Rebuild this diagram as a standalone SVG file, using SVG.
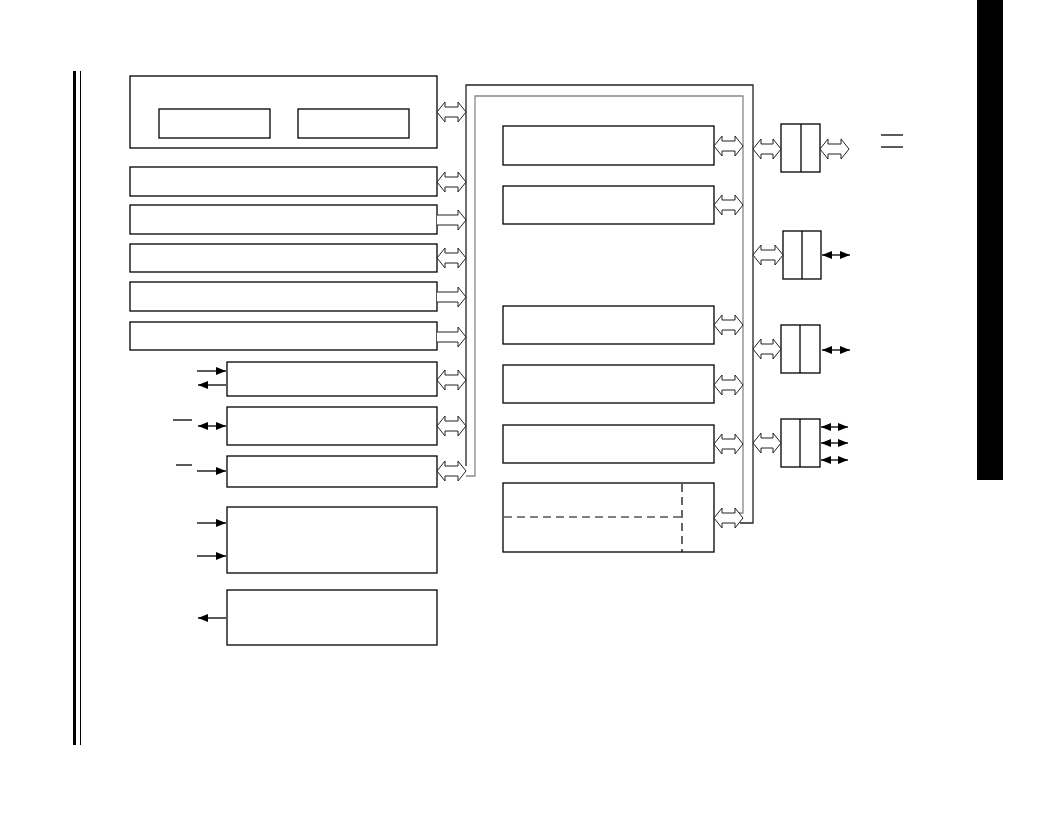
<svg xmlns="http://www.w3.org/2000/svg" width="1056" height="817" viewBox="0 0 1056 817">
<style>
.box{fill:#fff;stroke:#000;stroke-width:1.3}
.ha{fill:#fff;stroke:#222;stroke-width:1}
.ln{fill:none;stroke:#000;stroke-width:1.3}
.busO{fill:none;stroke:#222;stroke-width:1.3}
.busI{fill:none;stroke:#888;stroke-width:1.3}
.dash{fill:none;stroke:#000;stroke-width:1.2;stroke-dasharray:8,5}
</style>
<defs>
<marker id="ah" viewBox="0 0 10 8" refX="10" refY="4" markerWidth="10" markerHeight="8" markerUnits="userSpaceOnUse" orient="auto-start-reverse">
<path d="M0,0 L10,4 L0,8 Z" fill="#000"/>
</marker>
</defs>
<rect width="1056" height="817" fill="#fff"/>
<g id="page-bars">
<rect x="73" y="71" width="3" height="674" fill="#000"/>
<rect x="80" y="71" width="1" height="674" fill="#000"/>
<rect x="977" y="0" width="26" height="480" fill="#000"/>
</g>
<g id="n-top"><rect class="box" x="130" y="76" width="307" height="72"/></g>
<g id="n-top-a"><rect class="box" x="159" y="109" width="111" height="29"/></g>
<g id="n-top-b"><rect class="box" x="298" y="109" width="111" height="29"/></g>
<g id="n-2"><rect class="box" x="130" y="167" width="307" height="29"/></g>
<g id="n-3"><rect class="box" x="130" y="205" width="307" height="29"/></g>
<g id="n-4"><rect class="box" x="130" y="244" width="307" height="28"/></g>
<g id="n-5"><rect class="box" x="130" y="282" width="307" height="29"/></g>
<g id="n-6"><rect class="box" x="130" y="322" width="307" height="28"/></g>
<g id="n-g"><rect class="box" x="227" y="362" width="210" height="34"/></g>
<g id="n-h"><rect class="box" x="227" y="407" width="210" height="38"/></g>
<g id="n-i"><rect class="box" x="227" y="456" width="210" height="31"/></g>
<g id="n-j"><rect class="box" x="227" y="507" width="210" height="66"/></g>
<g id="n-k"><rect class="box" x="227" y="590" width="210" height="55"/></g>
<g id="n-ra"><rect class="box" x="503" y="126" width="211" height="39"/></g>
<g id="n-rb"><rect class="box" x="503" y="186" width="211" height="38"/></g>
<g id="n-rc"><rect class="box" x="503" y="306" width="211" height="38"/></g>
<g id="n-rd"><rect class="box" x="503" y="365" width="211" height="38"/></g>
<g id="n-re"><rect class="box" x="503" y="425" width="211" height="38"/></g>
<g id="n-rf"><rect class="box" x="503" y="483" width="211" height="69"/>
<line class="dash" x1="682" y1="484" x2="682" y2="552"/>
<line class="dash" x1="504" y1="517" x2="682" y2="517"/></g>
<g id="n-p1"><rect class="box" x="781" y="124" width="39" height="48"/><line class="ln" x1="801" y1="124" x2="801" y2="172"/></g>
<g id="n-p2"><rect class="box" x="783" y="231" width="38" height="48"/><line class="ln" x1="802" y1="231" x2="802" y2="279"/></g>
<g id="n-p3"><rect class="box" x="781" y="325" width="39" height="48"/><line class="ln" x1="800" y1="325" x2="800" y2="373"/></g>
<g id="n-p4"><rect class="box" x="781" y="419" width="39" height="48"/><line class="ln" x1="800" y1="419" x2="800" y2="467"/></g>
<g id="connectors">
<!-- buses -->
<path class="busO" d="M466,466 V85 H753 V523 H740"/>
<path class="busI" d="M466,476 H475 V96 H743 V513 H738"/>
<!-- hollow arrows left -->
<path class="ha" d="M437,112 L445,102 L445,107 L458,107 L458,102 L466,112 L458,122 L458,117 L445,117 L445,122 Z"/>
<path class="ha" d="M437,182 L445,172 L445,177 L458,177 L458,172 L466,182 L458,192 L458,187 L445,187 L445,192 Z"/>
<path class="ha" d="M437,215 L458,215 L458,210 L466,220 L458,230 L458,225 L437,225"/>
<path class="ha" d="M437,258 L445,248 L445,253 L458,253 L458,248 L466,258 L458,268 L458,263 L445,263 L445,268 Z"/>
<path class="ha" d="M437,292 L458,292 L458,287 L466,297 L458,307 L458,302 L437,302"/>
<path class="ha" d="M437,332 L458,332 L458,327 L466,337 L458,347 L458,342 L437,342"/>
<path class="ha" d="M437,380 L445,370 L445,375 L458,375 L458,370 L466,380 L458,390 L458,385 L445,385 L445,390 Z"/>
<path class="ha" d="M437,426 L445,416 L445,421 L458,421 L458,416 L466,426 L458,436 L458,431 L445,431 L445,436 Z"/>
<path class="ha" d="M437,471 L445,461 L445,466 L458,466 L458,461 L466,471 L458,481 L458,476 L445,476 L445,481 Z"/>
<!-- hollow arrows right column -->
<path class="ha" d="M714,146 L722,136 L722,141 L735,141 L735,136 L743,146 L735,156 L735,151 L722,151 L722,156 Z"/>
<path class="ha" d="M714,205 L722,195 L722,200 L735,200 L735,195 L743,205 L735,215 L735,210 L722,210 L722,215 Z"/>
<path class="ha" d="M714,325 L722,315 L722,320 L735,320 L735,315 L743,325 L735,335 L735,330 L722,330 L722,335 Z"/>
<path class="ha" d="M714,385 L722,375 L722,380 L735,380 L735,375 L743,385 L735,395 L735,390 L722,390 L722,395 Z"/>
<path class="ha" d="M714,444 L722,434 L722,439 L735,439 L735,434 L743,444 L735,454 L735,449 L722,449 L722,454 Z"/>
<path class="ha" d="M714,518 L722,508 L722,513 L735,513 L735,508 L743,518 L735,528 L735,523 L722,523 L722,528 Z"/>
<!-- hollow arrows to ports -->
<path class="ha" d="M753,149 L761,139 L761,144 L773,144 L773,139 L781,149 L773,159 L773,154 L761,154 L761,159 Z"/>
<path class="ha" d="M820,149 L828,139 L828,144 L841,144 L841,139 L849,149 L841,159 L841,154 L828,154 L828,159 Z"/>
<path class="ha" d="M753,255 L761,245 L761,250 L775,250 L775,245 L783,255 L775,265 L775,260 L761,260 L761,265 Z"/>
<path class="ha" d="M753,349 L761,339 L761,344 L773,344 L773,339 L781,349 L773,359 L773,354 L761,354 L761,359 Z"/>
<path class="ha" d="M753,443 L761,433 L761,438 L773,438 L773,433 L781,443 L773,453 L773,448 L761,448 L761,453 Z"/>
<!-- solid arrows on ports -->
<line class="ln" x1="822" y1="255" x2="850" y2="255" marker-start="url(#ah)" marker-end="url(#ah)"/>
<line class="ln" x1="822" y1="350" x2="850" y2="350" marker-start="url(#ah)" marker-end="url(#ah)"/>
<line class="ln" x1="821" y1="427" x2="848" y2="427" marker-start="url(#ah)" marker-end="url(#ah)"/>
<line class="ln" x1="821" y1="443" x2="848" y2="443" marker-start="url(#ah)" marker-end="url(#ah)"/>
<line class="ln" x1="821" y1="460" x2="848" y2="460" marker-start="url(#ah)" marker-end="url(#ah)"/>
<!-- two short lines top right -->
<line class="ln" x1="881" y1="135" x2="903" y2="135" stroke-width="1"/>
<line class="ln" x1="881" y1="147" x2="903" y2="147" stroke-width="1"/>
<!-- left solid arrows -->
<line class="ln" x1="197" y1="371" x2="226" y2="371" marker-end="url(#ah)"/>
<line class="ln" x1="226" y1="385" x2="198" y2="385" marker-end="url(#ah)"/>
<line class="ln" x1="198" y1="426" x2="226" y2="426" marker-start="url(#ah)" marker-end="url(#ah)"/>
<line class="ln" x1="173" y1="420" x2="192" y2="420" stroke-width="1"/>
<line class="ln" x1="176" y1="465" x2="192" y2="465" stroke-width="1"/>
<line class="ln" x1="197" y1="471" x2="226" y2="471" marker-end="url(#ah)"/>
<line class="ln" x1="197" y1="523" x2="226" y2="523" marker-end="url(#ah)"/>
<line class="ln" x1="197" y1="556" x2="226" y2="556" marker-end="url(#ah)"/>
<line class="ln" x1="226" y1="618" x2="198" y2="618" marker-end="url(#ah)"/>
</g>
</svg>
